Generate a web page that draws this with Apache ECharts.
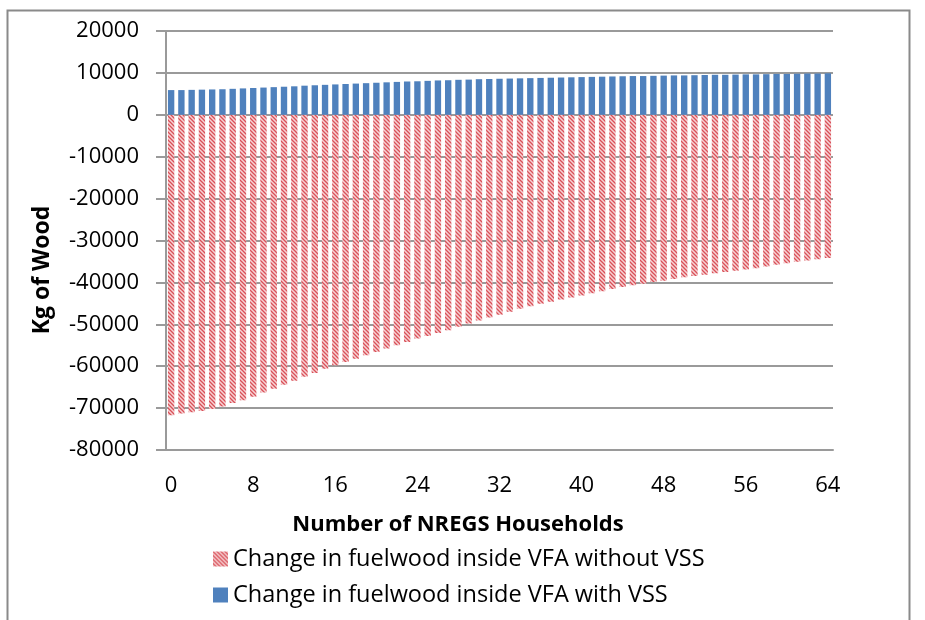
<!DOCTYPE html>
<html>
<head>
<meta charset="utf-8">
<script src="https://cdn.jsdelivr.net/npm/echarts@6/dist/echarts.min.js"></script>
<style>
html,body{margin:0;padding:0;background:#fff;}
#chart{width:925px;height:620px;}
</style>
</head>
<body>
<div id="chart"></div>
<script>
var categories = [];
for (var i = 0; i <= 64; i++) categories.push(String(i));

var withoutVSS = [
 -71700,-71300,-71000,-70700,-70200,-69600,-68800,-68100,-67300,-66300,
 -65400,-64400,-63500,-62500,-61600,-60600,-59800,-59000,-58200,-57400,
 -56600,-55800,-55000,-54200,-53400,-52800,-52100,-51400,-50600,-49800,
 -49100,-48400,-47700,-47000,-46300,-45700,-45100,-44600,-44100,-43600,
 -43100,-42600,-42100,-41600,-41100,-40700,-40300,-39900,-39600,-39200,
 -38800,-38500,-38200,-37800,-37500,-37200,-36900,-36600,-36200,-35800,
 -35400,-35100,-34800,-34500,-34200
];

var withVSS = [
 5900,5900,5950,6000,6050,6100,6200,6300,6400,6500,
 6600,6700,6800,6950,7050,7150,7250,7350,7450,7550,
 7650,7750,7850,7950,8000,8100,8200,8250,8350,8400,
 8500,8550,8600,8650,8700,8750,8800,8850,8900,8950,
 9000,9050,9100,9150,9200,9250,9250,9300,9350,9400,
 9400,9450,9500,9550,9550,9600,9650,9650,9700,9750,
 9750,9800,9850,9850,9900
];

var seriesNames = [
  'Change in fuelwood inside VFA without VSS',
  'Change in fuelwood inside VFA with VSS'
];
var xAxisTitle = 'Number of NREGS Households';
var yAxisTitle = 'Kg of Wood';

// hatch pattern
var pc = document.createElement('canvas');
pc.width = 4; pc.height = 4;
var g = pc.getContext('2d');
g.fillStyle = '#f6d3d5';
g.fillRect(0,0,4,4);
g.strokeStyle = '#d95058';
g.lineWidth = 1.3;
g.beginPath();
g.moveTo(-1,-1); g.lineTo(5,5);
g.moveTo(-3,1); g.lineTo(3,7);
g.moveTo(1,-3); g.lineTo(7,3);
g.stroke();

var chart = echarts.init(document.getElementById('chart'), null, {renderer:'canvas'});
var font = "'Open Sans', 'Liberation Sans', sans-serif";
chart.setOption({
  animation: false,
  backgroundColor: '#fff',
  textStyle: {fontFamily: font},
  graphic: [
    {
      type: 'rect',
      shape: {x: 7.5, y: 10.5, width: 902, height: 640},
      style: {fill: 'none', stroke: '#8a8a8a', lineWidth: 2}
    },
    {
      type: 'text',
      x: 458, y: 525,
      style: {text: xAxisTitle, font: "bold 22px " + font, fill: '#000',
        textAlign: 'center', textVerticalAlign: 'middle'}
    },
    {
      type: 'text',
      x: 42, y: 270,
      rotation: Math.PI / 2,
      style: {text: yAxisTitle, font: "bold 23px " + font, fill: '#000',
        textAlign: 'center', textVerticalAlign: 'middle'}
    }
  ],
  grid: {left: 166, right: 92, top: 31, bottom: 170, containLabel: false},
  legend: {
    orient: 'vertical',
    left: 208, top: 542,
    itemWidth: 15, itemHeight: 15, itemGap: 12,
    icon: 'rect',
    textStyle: {fontSize: 23.5, color: '#000', fontFamily: font},
    data: seriesNames
  },
  xAxis: {
    type: 'category',
    data: categories,
    axisLine: {onZero: false, lineStyle: {color: '#9a9a9a', width: 2}},
    axisTick: {show: false},
    axisLabel: {interval: 7, fontSize: 22, color: '#000', margin: 25, fontFamily: font},
    splitLine: {show: false}
  },
  yAxis: {
    type: 'value',
    min: -80000, max: 20000, interval: 10000,
    axisLine: {show: true, lineStyle: {color: '#9a9a9a', width: 2}},
    axisTick: {show: true, length: 10, lineStyle: {color: '#9a9a9a', width: 2}},
    axisLabel: {fontSize: 22, color: '#000', margin: 27, fontFamily: font,
      formatter: function (v) { return String(v); }},
    splitLine: {show: true, lineStyle: {color: '#9a9a9a', width: 2}}
  },
  series: [
    {
      name: seriesNames[0],
      type: 'bar',
      stack: 'all',
      data: withoutVSS,
      barWidth: '62%',
      itemStyle: {color: {image: pc, repeat: 'repeat'}}
    },
    {
      name: seriesNames[1],
      type: 'bar',
      stack: 'all',
      data: withVSS,
      barWidth: '62%',
      itemStyle: {color: '#4f81bd'}
    }
  ]
});
</script>
</body>
</html>
